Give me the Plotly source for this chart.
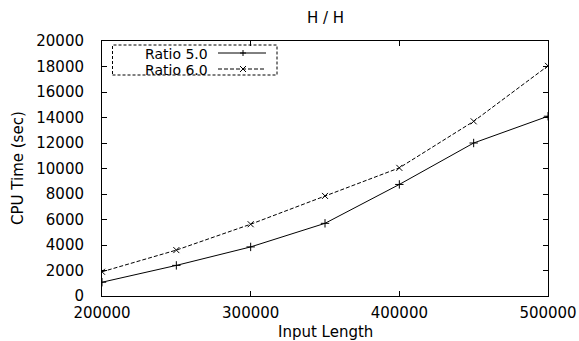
import plotly.graph_objects as go

input_length = [200000, 250000, 300000, 350000, 400000, 450000, 500000]
ratio_5 = [1080, 2400, 3850, 5700, 8750, 12000, 14100]
ratio_6 = [1900, 3600, 5630, 7850, 10050, 13700, 18050]
series_names = ["Ratio 5.0", "Ratio 6.0"]

FONT = "DejaVu Sans, Verdana, sans-serif"
FS = 15
W, H = 579, 341
L, R, T, B = 102, 31, 41, 45
PW, PH = W - L - R, H - T - B


def px(x):
    return (x - L) / PW


def py(y):
    return 1 - (y - T) / PH


fig = go.Figure()
fig.add_trace(go.Scatter(
    x=input_length, y=ratio_5, name=series_names[0], mode="lines+markers",
    line=dict(color="black", width=1),
    marker=dict(symbol="cross-thin", size=6, line=dict(color="black", width=1)),
    showlegend=False,
))
fig.add_trace(go.Scatter(
    x=input_length, y=ratio_6, name=series_names[1], mode="lines+markers",
    line=dict(color="black", width=1, dash="4px,2px"),
    marker=dict(symbol="x-thin", size=6, line=dict(color="black", width=1)),
    showlegend=False,
))

annotations = [
    dict(text="H / H", x=px(325), y=py(18), xref="paper", yref="paper",
         xanchor="center", yanchor="middle", showarrow=False),
    dict(text="Input Length", x=px(325), y=py(332), xref="paper", yref="paper",
         xanchor="center", yanchor="middle", showarrow=False),
    dict(text="CPU Time (sec)", x=px(18), y=py(168), xref="paper", yref="paper",
         xanchor="center", yanchor="middle", textangle=-90, showarrow=False),
]
shapes = [
    dict(type="rect", xref="paper", yref="paper",
         x0=px(112.5), x1=px(277), y0=py(75), y1=py(45),
         line=dict(color="black", width=1, dash="3px,2px")),
]
# gnuplot-style key: text right-aligned, then line sample with point
rows = [(53, None), (69, "4px,2px")]
for i, (ry, dash) in enumerate(rows):
    annotations.append(dict(text=series_names[i], x=px(209), y=py(ry), xref="paper", yref="paper",
                            xanchor="right", yanchor="middle", showarrow=False,
                            height=15, borderpad=0, font=dict(size=14)))
    shapes.append(dict(type="line", xref="paper", yref="paper",
                       x0=px(218), x1=px(266), y0=py(ry), y1=py(ry),
                       line=dict(color="black", width=1, dash=dash or "solid")))
    cx, cy, s = 243, ry, 3
    if i == 0:
        path = f"M{px(cx - s)},{py(cy)} L{px(cx + s)},{py(cy)} M{px(cx)},{py(cy - s)} L{px(cx)},{py(cy + s)}"
    else:
        path = (f"M{px(cx - s)},{py(cy - s)} L{px(cx + s)},{py(cy + s)} "
                f"M{px(cx - s)},{py(cy + s)} L{px(cx + s)},{py(cy - s)}")
    shapes.append(dict(type="path", xref="paper", yref="paper", path=path,
                       line=dict(color="black", width=1)))

fig.update_layout(
    width=W, height=H,
    margin=dict(l=L, r=R, t=T, b=B, autoexpand=False),
    paper_bgcolor="white", plot_bgcolor="white",
    font=dict(family=FONT, size=FS, color="black"),
    showlegend=False,
    annotations=annotations,
    shapes=shapes,
)

fig.update_xaxes(
    range=[200000, 500000], tickvals=[200000, 300000, 400000, 500000],
    tickformat="d", automargin=False,
    showline=True, linecolor="black", linewidth=1, mirror="ticks",
    ticks="inside", ticklen=5, tickcolor="black", showgrid=False, zeroline=False,
    ticklabelstandoff=3,
)
fig.update_yaxes(
    range=[0, 20000], dtick=2000, tickformat="d", automargin=False,
    showline=True, linecolor="black", linewidth=1, mirror="ticks",
    ticks="inside", ticklen=5, tickcolor="black", showgrid=False, zeroline=False,
    ticklabelstandoff=14,
)

fig.write_html("out.html", config={"displayModeBar": False},
               post_script="document.body.style.margin='0';document.body.style.overflow='hidden';")
